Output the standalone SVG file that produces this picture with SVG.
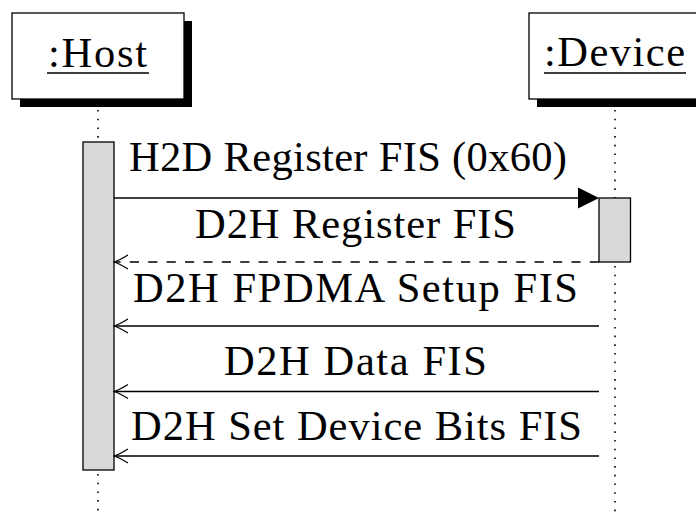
<svg xmlns="http://www.w3.org/2000/svg" width="696" height="513" viewBox="0 0 696 513">
  <defs>
    <style>
      .lbl { font-family: 'Liberation Serif', 'Times New Roman', serif; font-size: 42.5px; fill: #000; }
      .obj { fill: #fff; stroke: #000; stroke-width: 1.3; }
      .shadow { fill: #000; }
      .life { stroke: #000; stroke-width: 1.6; stroke-dasharray: 1.6 7.1; fill: none; }
      .act { fill: #d9d9d9; stroke: #000; stroke-width: 1.3; }
      .msg { stroke: #000; stroke-width: 1.3; fill: none; }
      .dash { stroke-dasharray: 9.2 9.2; }
      .ul { stroke: #000; stroke-width: 1.6; }
    </style>
    <marker id="open" markerUnits="userSpaceOnUse" markerWidth="20" markerHeight="20" viewBox="-19 -10 20 20" refX="0" refY="0" orient="auto">
      <path d="M-14,-7 Q-5,-1.5 0,0 Q-5,1.5 -14,7" fill="none" stroke="#000" stroke-width="1.3"/>
    </marker>
  </defs>

  <!-- lifelines -->
  <g id="lifelines">
    <line class="life" x1="98" y1="110" x2="98" y2="142"/>
    <line class="life" x1="98" y1="474" x2="98" y2="513"/>
    <line class="life" x1="615" y1="110" x2="615" y2="198"/>
    <line class="life" x1="615" y1="266" x2="615" y2="513"/>
  </g>

  <!-- object: Host -->
  <g id="host">
    <rect class="shadow" x="20" y="21" width="172" height="86"/>
    <rect class="obj" x="12" y="13" width="172" height="86"/>
    <text class="lbl" x="48" y="67" textLength="99" lengthAdjust="spacing">:Host</text>
    <line class="ul" x1="47" y1="73" x2="149" y2="73"/>
  </g>

  <!-- object: Device -->
  <g id="device">
    <rect class="shadow" x="537" y="21" width="180" height="86"/>
    <rect class="obj" x="529" y="13" width="180" height="86"/>
    <text class="lbl" x="544" y="66" textLength="141" lengthAdjust="spacing">:Device</text>
    <line class="ul" x1="544" y1="73" x2="686" y2="73"/>
  </g>

  <!-- activations -->
  <g id="host-activation">
    <rect class="act" x="83" y="142" width="31" height="328"/>
  </g>
  <g id="device-activation">
    <rect class="act" x="599" y="198" width="31.5" height="64"/>
  </g>

  <!-- messages -->
  <g id="connectors">
    <line class="msg" x1="114" y1="198" x2="580" y2="198"/>
    <path d="M599,198 L578,187.5 L578,208.5 Z" fill="#000"/>
    <line class="msg dash" x1="599" y1="262" x2="114" y2="262" marker-end="url(#open)"/>
    <line class="msg" x1="599" y1="326" x2="114" y2="326" marker-end="url(#open)"/>
    <line class="msg" x1="599" y1="391.5" x2="114" y2="391.5" marker-end="url(#open)"/>
    <line class="msg" x1="599" y1="456" x2="114" y2="456" marker-end="url(#open)"/>
  </g>

  <!-- message labels -->
  <g id="labels">
    <text class="lbl" x="129" y="171" textLength="438" lengthAdjust="spacing">H2D Register FIS (0x60)</text>
    <text class="lbl" x="195" y="237.5" textLength="321" lengthAdjust="spacing">D2H Register FIS</text>
    <text class="lbl" x="133" y="301.5" textLength="445" lengthAdjust="spacing">D2H FPDMA Setup FIS</text>
    <text class="lbl" x="224" y="375" textLength="263" lengthAdjust="spacing">D2H Data FIS</text>
    <text class="lbl" x="131" y="440" textLength="451" lengthAdjust="spacing">D2H Set Device Bits FIS</text>
  </g>
</svg>
